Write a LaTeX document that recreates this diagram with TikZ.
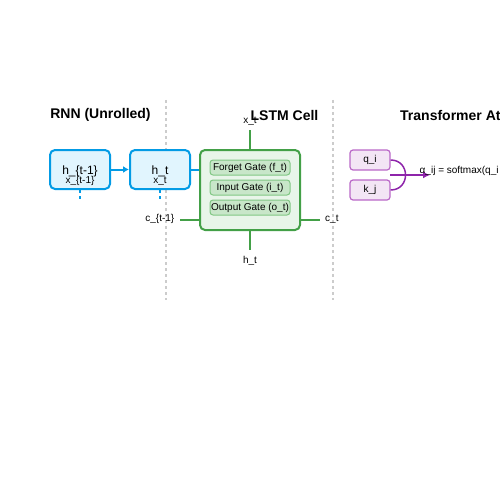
\documentclass[tikz,border=0pt]{standalone}
\usepackage{fontspec}
\setmainfont{Liberation Sans}
\usetikzlibrary{arrows.meta}

\definecolor{rnnline}{HTML}{039BE5}
\definecolor{rnnfill}{HTML}{E1F5FE}
\definecolor{lstmline}{HTML}{43A047}
\definecolor{lstmfill}{HTML}{E8F5E9}
\definecolor{gateline}{HTML}{81C784}
\definecolor{gatefill}{HTML}{C8E6C9}
\definecolor{attline}{HTML}{BA68C8}
\definecolor{attfill}{HTML}{F3E5F5}
\definecolor{attarrow}{HTML}{8E24AA}
\definecolor{sepline}{HTML}{CCCCCC}

\tikzset{
    rnncell/.style={draw=rnnline,fill=rnnfill,line width=2pt,rounded corners=5pt,
        minimum width=60pt,minimum height=39pt,inner sep=0pt},
    lstmcell/.style={draw=lstmline,fill=lstmfill,line width=2pt,rounded corners=5pt,
        minimum width=100pt,minimum height=80pt,inner sep=0pt},
    gatebox/.style={draw=gateline,fill=gatefill,line width=1pt,rounded corners=3pt,
        minimum width=80pt,minimum height=15pt,inner sep=0pt,font=\fontsize{10}{12}\selectfont},
    vecbox/.style={draw=attline,fill=attfill,line width=1.2pt,rounded corners=3pt,
        minimum width=40pt,minimum height=20pt,inner sep=0pt,font=\fontsize{10}{12}\selectfont},
    heading/.style={font=\fontsize{14}{16}\selectfont\bfseries,inner sep=0pt},
    small/.style={font=\fontsize{10}{12}\selectfont,inner sep=0pt},
}

\begin{document}
\begin{tikzpicture}[x=1pt,y=-1pt]
    \useasboundingbox (0,0) rectangle (500,500);
    % separators
    \draw[sepline,line width=1.2pt,dash pattern=on 3pt off 3pt] (166,100) -- (166,300);
    \draw[sepline,line width=1.2pt,dash pattern=on 3pt off 3pt] (333,100) -- (333,300);

    % RNN (unrolled)
    \node[heading] at (100.5,115) (rnntitle) {RNN (Unrolled)};
    \node[rnncell] at (80,169.5) (hprev) {};
    \node[rnncell] at (160,169.5) (hcur) {};
    \node[font=\fontsize{12}{14}\selectfont,inner sep=0pt] at (80,171) (hprevtxt) {h\_\{t-1\}};
    \node[small] at (80,181) (xprevtxt) {x\_\{t-1\}};
    \node[font=\fontsize{12}{14}\selectfont,inner sep=0pt] at (160,171) (hcurtxt) {h\_t};
    \node[small] at (160,181) (xcurtxt) {x\_t};
    \coordinate (xprevin) at (80,201);
    \coordinate (xcurin) at (160,201);
    \draw[rnnline,line width=2pt,-{Latex[length=6pt,width=7pt]}] (hprev) to (hcur);
    \draw[rnnline,line width=2pt,dash pattern=on 3pt off 3pt] (hprev.south) to (xprevin);
    \draw[rnnline,line width=2pt,dash pattern=on 3pt off 3pt] (hcur.south) to (xcurin);

    % LSTM cell
    \node[heading] at (284.5,115) (lstmtitle) {LSTM Cell};
    \node[lstmcell] at (250,190) (lstm) {};
    \draw[rnnline,line width=2pt] (hcur.east) to (hcur.east -| lstm.west);
    \node[gatebox] at (250,167.5) (forget) {Forget Gate (f\_t)};
    \node[gatebox] at (250,187.5) (input) {Input Gate (i\_t)};
    \node[gatebox] at (250,207.5) (output) {Output Gate (o\_t)};
    \node[small] at (250,121) (xin) {x\_t};
    \node[small] at (250,261) (hout) {h\_t};
    \node[small,anchor=east] at (174.5,219) (cin) {c\_\{t-1\}};
    \node[small,anchor=west] at (325,219) (cout) {c\_t};
    \coordinate (xinend) at (250,130);
    \coordinate (houtend) at (250,250);
    \coordinate (cinend) at (180,220);
    \coordinate (coutend) at (320,220);
    \draw[lstmline,line width=2pt] (xinend) to (lstm.north);
    \draw[lstmline,line width=2pt] (lstm.south) to (houtend);
    \draw[lstmline,line width=2pt] (cinend) to (cinend -| lstm.west);
    \draw[lstmline,line width=2pt] (coutend -| lstm.east) to (coutend);

    % Transformer attention
    \node[heading,anchor=west] at (400,115) (atttitle) {Transformer Attention};
    \node[vecbox] at (370,160) (q) {q\_i};
    \node[vecbox] at (370,190) (k) {k\_j};
    \coordinate (qk) at (390,175);
    \coordinate (score) at (430,175);
    \draw[attarrow,line width=1.5pt] (q.east) to [out=0,in=0,looseness=1.7] (k.east);
    \draw[attarrow,line width=1.5pt,-{Latex[length=7pt,width=7pt]}] (qk) to (score);
    \node[small,anchor=west] at (419.5,171) (alpha) {α\_ij = softmax(q\_i · k\_j)};
\end{tikzpicture}
\end{document}
